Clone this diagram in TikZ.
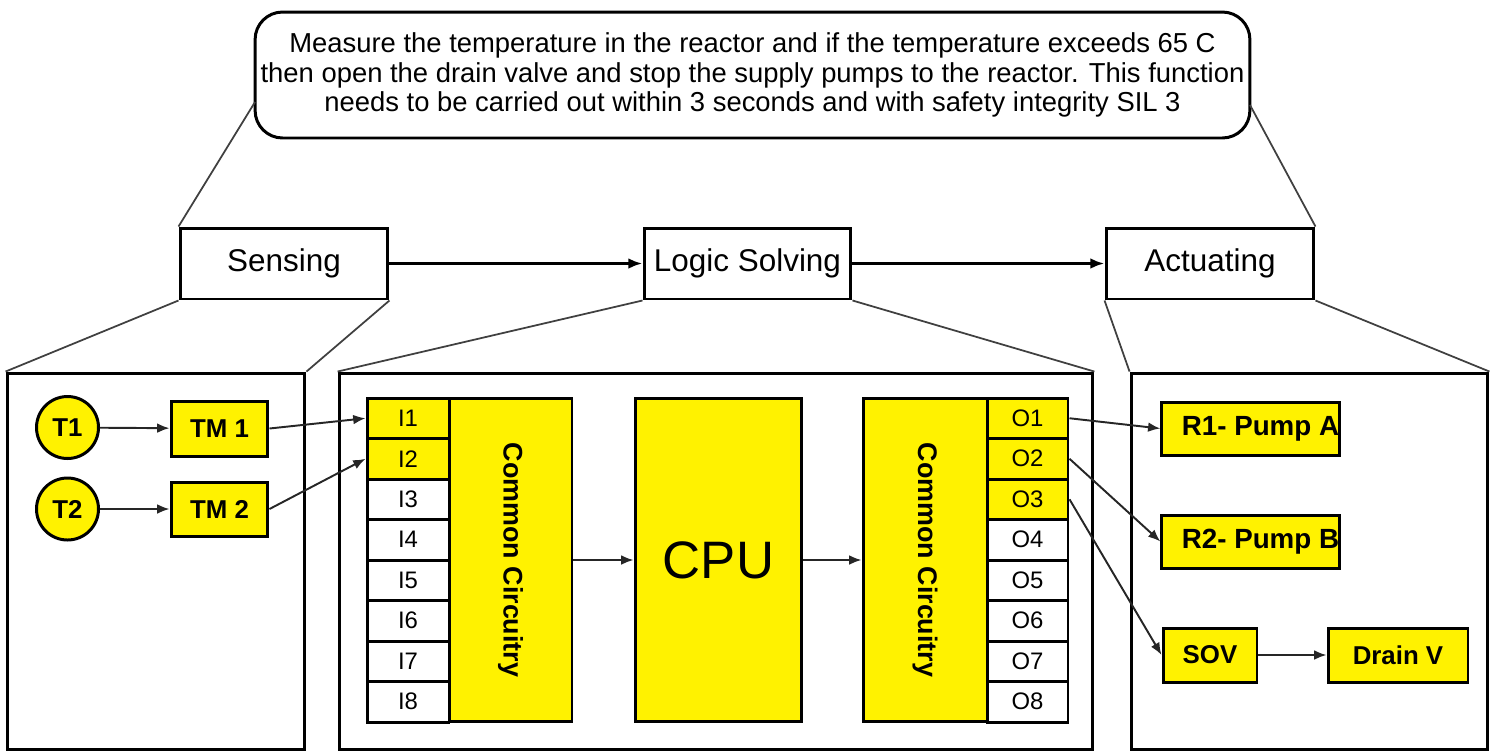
\documentclass[tikz,border=0pt]{standalone}
\usepackage{fontspec}
\setmainfont{Liberation Sans}
\usetikzlibrary{arrows.meta}
\definecolor{yel}{RGB}{255,242,0}
\begin{document}
\begin{tikzpicture}[x=0.02cm,y=-0.02cm,
  stagebox/.style={draw=black, line width=1.7pt, fill=white, minimum height=1.42cm, inner sep=0pt, font=\fontsize{17.9}{20}\selectfont},
  panel/.style={draw=black, line width=1.7pt, minimum height=7.54cm, inner sep=0pt},
  ybox/.style={draw=black, fill=yel, line width=1.7pt, inner sep=0pt, font=\bfseries\fontsize{14.7}{17}\selectfont},
  tcirc/.style={circle, draw=black, fill=yel, line width=1.7pt, minimum size=1.24cm, inner sep=0pt, font=\bfseries\fontsize{14.7}{17}\selectfont},
  cell/.style={draw=black, line width=1.7pt, minimum height=0.81cm, inner sep=0pt, font=\fontsize{13.6}{16}\selectfont},
  bigbox/.style={draw=black, fill=yel, line width=1.7pt, minimum height=6.48cm, inner sep=0pt},
  conn/.style={line width=1.1pt, draw=black!85, -{Latex[length=7pt,width=5.5pt]}},
  guide/.style={line width=1pt, draw=black!75}]
\useasboundingbox (0,0) rectangle (1495,752);

% top statement bubble
\node[draw=black, line width=1.7pt, rounded corners=0.55cm, minimum width=19.9cm, minimum height=2.52cm, align=center, inner sep=0pt,
  font=\fontsize{15.6}{17}\selectfont] (bubble) at (752.5,75)
  {Measure the temperature in the reactor and if the temperature exceeds 65 C\\
   then open the drain valve and stop the supply pumps to the reactor. This function\\
   needs to be carried out within 3 seconds and with safety integrity SIL 3};
\coordinate (bl) at (255,102);
\coordinate (br) at (1250,105);

% stage boxes
\node[stagebox, minimum width=4.16cm] (sens) at (284,263.5) {Sensing};
\node[stagebox, minimum width=4.14cm] (logic) at (747.5,263.5) {Logic Solving};
\node[stagebox, minimum width=4.16cm] (act) at (1210,263.5) {Actuating};

% panels
\node[panel, minimum width=5.96cm] (p1) at (156,561.5) {};
\node[panel, minimum width=15.08cm] (p2) at (716,561.5) {};
\node[panel, minimum width=7.14cm] (p3) at (1309.5,561.5) {};

% guide lines
\draw[guide] (sens.north west) -- (bl);
\draw[guide] (act.north east) -- (br);
\draw[guide] (sens.south west) -- (p1.north west);
\draw[guide] (sens.south east) -- (p1.north east);
\draw[guide] (logic.south west) -- (p2.north west);
\draw[guide] (logic.south east) -- (p2.north east);
\draw[guide] (act.south west) -- (p3.north west);
\draw[guide] (act.south east) -- (p3.north east);

% stage arrows
\draw[line width=1.6pt, -{Latex[length=8pt,width=6pt]}] (sens.east) -- (logic.west);
\draw[line width=1.6pt, -{Latex[length=8pt,width=6pt]}] (logic.east) -- (act.west);

% sensing panel
\node[tcirc] (t1) at (67.5,427.5) {T1};
\node[tcirc] (t2) at (67.5,509) {T2};
\node[ybox, minimum width=1.94cm, minimum height=1.1cm] (tm1) at (219.5,428.5) {TM 1};
\node[ybox, minimum width=1.94cm, minimum height=1.08cm] (tm2) at (219.5,509) {TM 2};
\draw[conn] (t1) -- (tm1);
\draw[conn] (t2) -- (tm2);

% logic panel: inputs and outputs
\foreach \k/\f/\g in {1/yel/yel,2/yel/yel,3/white/yel,4/white/white,5/white/white,6/white/white,7/white/white,8/white/white}{
  \node[cell, fill=\f, minimum width=1.64cm] (I\k) at (408,{398+40.5*(\k-0.5)}) {I\k};
  \node[cell, fill=\g, minimum width=1.62cm] (O\k) at (1027.5,{398+40.5*(\k-0.5)}) {O\k};
}
\node[bigbox, minimum width=2.46cm] (cc1) at (510.5,560) {};
\node[rotate=-90, font=\bfseries\fontsize{15.3}{17}\selectfont] (cc1t) at (cc1) {Common Circuitry};
\node[bigbox, minimum width=3.34cm, font=\fontsize{30}{34}\selectfont] (cpu) at (718.5,560) {CPU};
\node[bigbox, minimum width=2.48cm] (cc2) at (925,560) {};
\node[rotate=-90, font=\bfseries\fontsize{15.3}{17}\selectfont] (cc2t) at (cc2) {Common Circuitry};
\draw[conn] (cc1.east) -- (cpu.west);
\draw[conn] (cpu.east) -- (cc2.west);

\draw[conn] (tm1.east) -- (I1.west);
\draw[conn] (tm2.east) -- (I2.west);

% actuating panel
\node[ybox, minimum width=3.5cm, minimum height=1.06cm, font=\bfseries\fontsize{15.8}{17}\selectfont] (r1) at (1250.5,428.5) {\hspace*{0.4cm}R1- Pump A};
\node[ybox, minimum width=3.5cm, minimum height=1.06cm, font=\bfseries\fontsize{15.8}{17}\selectfont] (r2) at (1250.5,541.5) {\hspace*{0.4cm}R2- Pump B};
\node[ybox, minimum width=1.88cm, minimum height=1.08cm] (sov) at (1210,655) {SOV};
\node[ybox, minimum width=2.8cm, minimum height=1.08cm] (drain) at (1398,655) {Drain V};
\draw[conn] (O1.east) -- (r1.west);
\draw[conn] (O2.east) -- (r2.west);
\draw[conn] (O3.east) -- (sov.west);
\draw[conn] (sov) -- (drain);
\end{tikzpicture}
\end{document}
